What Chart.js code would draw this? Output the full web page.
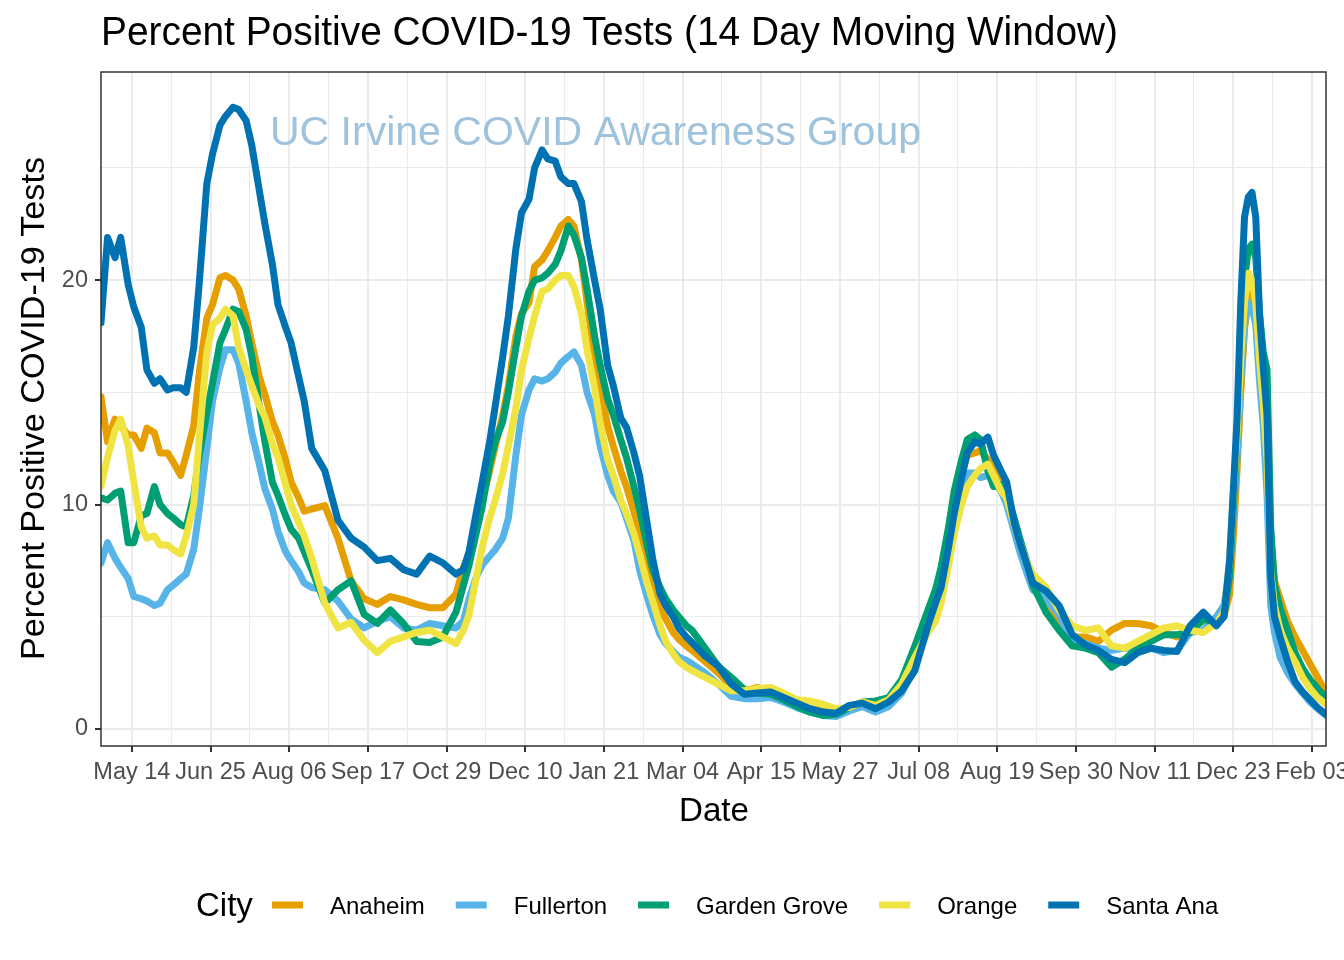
<!DOCTYPE html>
<html lang="en">
<head>
<meta charset="UTF-8">
<title>Percent Positive COVID-19 Tests</title>
<style>
  body { margin: 0; background: #ffffff; }
  canvas { display: block; }
</style>
</head>
<body>
<canvas id="chartCanvas" width="1344" height="960"></canvas>
<script src="https://cdn.jsdelivr.net/npm/chart.js@4.4.1/dist/chart.umd.min.js"></script>
<script>
// x values: days since 2020-05-14 (the first labelled tick)
const dayOffset = [
  -16.5, -13, -9, -6, -2, 1, 5, 8, 12, 15, 19, 22, 26, 29, 33, 36, 40, 43, 47, 50, 54, 57, 61, 64, 68, 71, 75, 78, 82, 85, 89, 92, 96,
  103, 110, 117, 124, 131, 138, 145, 152, 159, 166, 173,
  177, 180, 184, 187, 191, 194, 198, 201, 205, 208, 212, 215, 219, 222, 226, 229, 233, 236, 240, 243, 247, 250, 254, 257, 261, 264, 268, 271, 275, 278, 282, 285, 289, 292, 296, 299,
  306, 313, 320, 327, 334, 341, 348, 355, 362, 369, 376, 383, 390, 397, 404, 411, 418, 425,
  429, 432, 436, 439, 443, 446, 450, 453, 457, 460, 464, 467, 471, 474, 478, 481,
  488, 495, 502, 509, 516, 523, 530, 537, 544, 551, 558, 565, 572, 579,
  583, 586, 588, 590, 592, 594, 596, 598, 600, 602, 604, 606, 608, 610, 613,
  617, 621, 625, 629, 633, 637.5
];

const anaheim = [
  14.8, 12.8, 13.8, 13.5, 13.1, 13.1, 12.5, 13.4, 13.2, 12.3, 12.3, 11.9, 11.3, 12.2, 13.5, 15.9, 18.3, 18.9, 20.1, 20.2, 20.0, 19.6, 18.4, 17.2, 15.7, 14.9, 13.7, 13.1, 12.0, 11.0, 10.3, 9.7, 9.8,
  9.95, 8.5, 6.6, 5.8, 5.55, 5.9, 5.75, 5.55, 5.4, 5.4, 6.0,
  7.2, 7.8, 9.0, 10.2, 11.5, 12.6, 14.0, 15.3, 17.5, 18.5, 19.0, 20.6, 20.9, 21.3, 21.9, 22.4, 22.7, 22.4, 20.9, 19.0, 16.6, 15.2, 13.5, 12.6, 11.5, 10.8, 9.7, 8.8, 7.7, 6.4, 5.4, 4.9, 4.3, 4.0, 3.7, 3.5,
  3.0, 2.5, 1.9, 1.7, 1.85, 1.6, 1.3, 1.1, 0.9, 0.8, 0.8, 0.9, 1.1, 1.1, 1.3, 1.8, 2.7, 4.9,
  5.8, 6.7, 8.5, 9.9, 11.4, 12.2, 12.3, 12.4, 12.0, 11.6, 11.2, 10.7, 9.0, 8.2, 7.2, 6.3,
  5.7, 4.9, 4.1, 4.1, 3.9, 4.4, 4.7, 4.7, 4.6, 4.3, 4.1, 4.5, 4.8, 4.8,
  5.0, 6.0, 8.5, 11.5, 15.0, 17.8, 19.2, 19.4, 19.0, 17.5, 15.5, 13.0, 8.5, 6.6, 5.8,
  4.8, 4.1, 3.5, 2.9, 2.3, 1.6
];

const fullerton = [
  7.4, 8.3, 7.6, 7.2, 6.7, 5.9, 5.8, 5.7, 5.5, 5.6, 6.2, 6.4, 6.7, 6.9, 8.0, 9.8, 12.5, 14.6, 16.1, 16.9, 16.9, 16.3, 14.6, 13.2, 11.8, 10.7, 9.8, 8.8, 7.9, 7.5, 7.0, 6.5, 6.3,
  6.2, 5.7, 4.9, 4.5, 4.8, 5.0, 4.5, 4.4, 4.7, 4.6, 4.5,
  4.8, 5.8, 6.8, 7.3, 7.7, 8.0, 8.5, 9.4, 12.2, 14.0, 15.1, 15.6, 15.5, 15.6, 15.9, 16.3, 16.6, 16.8, 16.2, 15.0, 14.0, 12.6, 11.3, 10.6, 10.1, 9.4, 8.4, 7.1, 5.9, 5.1, 4.2, 3.8, 3.45, 3.2, 3.05, 2.9,
  2.5, 2.0, 1.45, 1.35, 1.35, 1.4, 1.2, 0.95, 0.75, 0.6, 0.55, 0.8, 1.0, 0.75, 1.0, 1.6, 2.8, 5.2,
  5.9, 6.8, 8.3, 9.5, 10.8, 11.4, 11.4, 11.2, 11.3, 11.0, 10.6, 10.0, 8.8, 7.9, 6.9, 6.2,
  5.8, 5.1, 3.9, 3.8, 3.6, 3.5, 3.6, 3.6, 3.6, 3.4, 3.5, 4.3, 4.4, 5.0,
  5.5, 7.0, 9.5, 12.0, 15.5, 18.0, 19.0, 18.8, 18.0, 15.5, 13.5, 10.5, 5.5, 4.3, 3.2,
  2.5, 2.0, 1.6, 1.2, 0.9, 0.6
];

const gardenGrove = [
  10.3, 10.2, 10.5, 10.6, 8.3, 8.3, 9.5, 9.6, 10.8, 10.0, 9.6, 9.4, 9.1, 9.0, 10.4, 12.2, 14.1, 15.4, 17.2, 17.8, 18.7, 18.6, 17.8, 16.6, 14.4, 12.8, 11.0, 10.4, 9.5, 8.9, 8.5, 7.9, 7.1,
  5.6, 6.2, 6.6, 5.1, 4.7, 5.3, 4.7, 3.9, 3.85, 4.1, 5.2,
  6.4, 7.3, 8.8, 9.9, 11.8, 12.8, 13.7, 15.0, 17.0, 18.4, 19.5, 20.0, 20.1, 20.3, 20.7, 21.3, 22.4, 22.0, 21.0, 19.6, 17.5, 16.2, 14.7, 14.0, 12.9, 12.1, 10.8, 9.8, 8.2, 7.1, 6.3, 5.8, 5.3, 5.0, 4.6, 4.4,
  3.6, 2.8, 2.3, 1.75, 1.6, 1.55, 1.3, 1.0, 0.75, 0.6, 0.65, 0.95, 1.2, 1.25, 1.4, 2.2, 3.7, 5.3,
  6.2, 7.2, 9.0, 10.6, 12.0, 12.9, 13.1, 12.9, 11.5, 10.8, 10.9, 10.5, 9.4, 8.5, 7.4, 6.4,
  5.2, 4.4, 3.7, 3.6, 3.4, 2.75, 3.1, 3.6, 3.9, 4.2, 4.2, 4.3, 4.9, 4.7,
  5.0, 6.8, 10.0, 13.0, 17.0, 20.0, 21.4, 21.6, 21.0, 18.5, 16.8, 16.0, 9.0, 6.4, 5.4,
  4.4, 3.4, 2.7, 2.2, 1.8, 1.4
];

const orange = [
  10.8, 12.1, 13.3, 13.8, 12.6, 11.0, 9.0, 8.5, 8.6, 8.2, 8.2, 8.0, 7.8, 8.6, 10.0, 13.0, 16.8, 18.0, 18.3, 18.7, 18.4, 17.0, 16.0, 15.3, 14.4, 13.9, 12.7, 12.1, 10.9, 10.0, 9.2, 8.6, 7.6,
  5.6, 4.5, 4.75, 3.95, 3.4, 3.9, 4.1, 4.3, 4.4, 4.1, 3.8,
  4.4, 5.1, 6.8, 8.1, 9.4, 10.2, 11.4, 12.6, 14.3, 16.0, 17.4, 18.4, 19.5, 19.6, 20.0, 20.2, 20.2, 19.7, 18.5, 16.9, 15.2, 13.6, 12.0, 11.3, 10.2, 9.6, 8.7, 7.8, 6.5, 5.7, 4.6, 3.9, 3.35, 3.0, 2.75, 2.6,
  2.3, 2.0, 1.7, 1.7, 1.8, 1.85, 1.6, 1.3, 1.25, 1.1, 0.9, 0.95, 1.2, 1.05, 1.3, 2.0, 3.2, 4.3,
  4.8, 5.6, 7.3, 8.7, 10.0, 10.8, 11.3, 11.6, 11.8, 11.3, 10.6, 10.3, 9.1, 8.3, 7.4, 6.9,
  6.3, 5.3, 4.6, 4.4, 4.5, 3.7, 3.6, 3.9, 4.2, 4.5, 4.6, 4.4, 4.3, 4.7,
  5.2, 7.5, 10.5, 13.0, 16.5, 19.0, 20.3, 20.0, 19.0, 16.5, 14.5, 12.0, 7.0, 5.5, 4.4,
  3.6, 3.0, 2.3, 1.8, 1.4, 1.1
];

const santaAna = [
  18.1, 21.9, 21.0, 21.9, 19.8, 18.8, 17.9, 16.0, 15.4, 15.6, 15.1, 15.2, 15.2, 15.0, 17.0, 19.9, 24.3, 25.6, 26.9, 27.3, 27.7, 27.6, 27.1, 26.0, 24.0, 22.5, 20.7, 18.9, 17.9, 17.2, 15.7, 14.6, 12.5,
  11.5, 9.3, 8.5, 8.1, 7.5, 7.6, 7.1, 6.9, 7.7, 7.4, 6.9,
  7.1, 7.9, 9.7, 11.0, 12.8, 14.4, 16.6, 18.4, 21.4, 23.0, 23.6, 25.0, 25.8, 25.4, 25.3, 24.6, 24.3, 24.3, 23.5, 21.8, 20.0, 18.7, 16.2, 15.3, 13.85, 13.45, 12.3, 11.3, 9.2, 7.6, 6.0, 5.5, 5.0, 4.5, 4.1, 3.85,
  3.25, 2.8, 2.0, 1.55, 1.6, 1.65, 1.4, 1.15, 0.9, 0.75, 0.7, 1.05, 1.15, 0.9, 1.2, 1.7, 2.6, 4.6,
  5.6, 6.3, 8.1, 9.6, 11.2, 12.3, 12.8, 12.7, 13.0, 12.2, 11.5, 11.0, 9.2, 8.3, 7.3, 6.5,
  6.15, 5.5, 4.2, 3.75, 3.5, 3.1, 2.95, 3.4, 3.6, 3.5, 3.45, 4.6, 5.2, 4.6,
  5.0, 7.5, 10.6, 13.8, 19.0, 22.8, 23.7, 23.9, 22.8, 18.5, 16.1, 14.0, 6.8, 5.0, 4.1,
  3.0, 2.1, 1.65, 1.3, 0.95, 0.65
];

const cities = ['Anaheim', 'Fullerton', 'Garden Grove', 'Orange', 'Santa Ana'];
const cityColors = ['#E69F00', '#56B4E9', '#009E73', '#F0E442', '#0072B2'];
const seriesList = [anaheim, fullerton, gardenGrove, orange, santaAna];

// labels of the major x ticks, every 42 days from 2020-05-14
const xTickLabels = ['May 14', 'Jun 25', 'Aug 06', 'Sep 17', 'Oct 29', 'Dec 10', 'Jan 21', 'Mar 04',
  'Apr 15', 'May 27', 'Jul 08', 'Aug 19', 'Sep 30', 'Nov 11', 'Dec 23', 'Feb 03'];
const yTickLabels = [0, 10, 20];

const FONT = "'Liberation Sans', Arial, sans-serif";

// text stretched to a given width (the original uses a narrow rendering)
function fitText(ctx, text, x, y, width, size) {
    ctx.font = size + 'px ' + FONT;
    const w = ctx.measureText(text).width;
    ctx.save();
    ctx.translate(x, y);
    ctx.scale(width / w, 1);
    ctx.fillText(text, 0, 0);
    ctx.restore();
}

const decorPlugin = {
    id: 'decor',
    beforeDatasetsDraw(chart) {
        const ctx = chart.ctx;
        ctx.save();
        ctx.fillStyle = '#9fc3dc';
        ctx.textBaseline = 'alphabetic';
        ctx.textAlign = 'left';
        fitText(ctx, 'UC Irvine COVID Awareness Group', 270, 145, 651, 41);
        ctx.restore();
    },
    afterDraw(chart) {
        const ctx = chart.ctx;
        const a = chart.chartArea;
        ctx.save();
        // panel border
        ctx.strokeStyle = '#333333';
        ctx.lineWidth = 1.5;
        ctx.strokeRect(a.left, a.top, a.right - a.left, a.bottom - a.top);

        ctx.fillStyle = '#000000';
        ctx.textAlign = 'left';
        ctx.textBaseline = 'alphabetic';
        // title
        fitText(ctx, 'Percent Positive COVID-19 Tests (14 Day Moving Window)', 101, 45, 1017, 41);
        // x axis title
        fitText(ctx, 'Date', 679, 821, 70, 33);
        // y axis title
        ctx.save();
        ctx.translate(44, 660);
        ctx.rotate(-Math.PI / 2);
        fitText(ctx, 'Percent Positive COVID-19 Tests', 0, 0, 503, 34);
        ctx.restore();

        // legend
        ctx.font = '33px ' + FONT;
        ctx.fillText('City', 196, 916);
        ctx.font = '24px ' + FONT;
        let x = 272;
        cities.forEach((name, i) => {
            ctx.strokeStyle = cityColors[i];
            ctx.lineWidth = 7;
            ctx.lineCap = 'butt';
            ctx.beginPath();
            ctx.moveTo(x, 905);
            ctx.lineTo(x + 31, 905);
            ctx.stroke();
            ctx.fillStyle = '#000000';
            ctx.fillText(name, x + 58, 914);
            x += 58 + ctx.measureText(name).width + 31;
        });
        ctx.restore();
    }
};

const datasets = cities.map((name, i) => ({
    label: name,
    data: dayOffset.map((d, j) => ({ x: d, y: seriesList[i][j] })),
    borderColor: cityColors[i],
    backgroundColor: cityColors[i],
    borderWidth: 7,
    pointRadius: 0,
    tension: 0,
    borderJoinStyle: 'round',
    borderCapStyle: 'round',
    order: cities.length - 1 - i   // Santa Ana drawn on top
}));

const ctx = document.getElementById('chartCanvas').getContext('2d');
new Chart(ctx, {
    type: 'line',
    data: { datasets: datasets },
    plugins: [decorPlugin],
    options: {
        responsive: false,
        devicePixelRatio: 1,
        animation: false,
        layout: { padding: { left: 0, top: 72, right: 18, bottom: 0 } },
        plugins: {
            legend: { display: false },
            tooltip: { enabled: false },
            title: { display: false }
        },
        scales: {
            x: {
                type: 'linear',
                min: -16.5,
                max: 637.5,
                afterBuildTicks: (scale) => {
                    const t = [];
                    for (let v = 0; v <= 630; v += 21) t.push({ value: v });
                    scale.ticks = t;
                },
                afterFit: (scale) => {
                    scale.height = 214;
                    scale.paddingLeft = 0;
                    scale.paddingRight = 0;
                },
                border: { display: false },
                grid: {
                    color: '#EBEBEB',
                    lineWidth: (c) => (c.tick && c.tick.value % 42 === 0 ? 2 : 1),
                    tickColor: (c) => (c.tick && c.tick.value % 42 === 0 ? '#333333' : 'rgba(0,0,0,0)'),
                    tickLength: 6,
                    tickWidth: 2
                },
                ticks: {
                    autoSkip: false,
                    maxRotation: 0,
                    minRotation: 0,
                    padding: 6,
                    color: '#4D4D4D',
                    font: { family: FONT, size: 23.5 },
                    callback: (v) => (v % 42 === 0 ? xTickLabels[v / 42] : '')
                }
            },
            y: {
                type: 'linear',
                min: -0.76,
                max: 29.27,
                afterBuildTicks: (scale) => {
                    scale.ticks = [0, 5, 10, 15, 20, 25].map(v => ({ value: v }));
                },
                afterFit: (scale) => {
                    scale.width = 101;
                },
                border: { display: false },
                grid: {
                    color: '#EBEBEB',
                    lineWidth: (c) => (c.tick && c.tick.value % 10 === 0 ? 2 : 1),
                    tickColor: (c) => (c.tick && c.tick.value % 10 === 0 ? '#333333' : 'rgba(0,0,0,0)'),
                    tickLength: 6,
                    tickWidth: 2
                },
                ticks: {
                    padding: 7,
                    color: '#4D4D4D',
                    font: { family: FONT, size: 23.5 },
                    callback: (v) => (yTickLabels.includes(v) ? String(v) : '')
                }
            }
        }
    }
});
</script>
</body>
</html>
